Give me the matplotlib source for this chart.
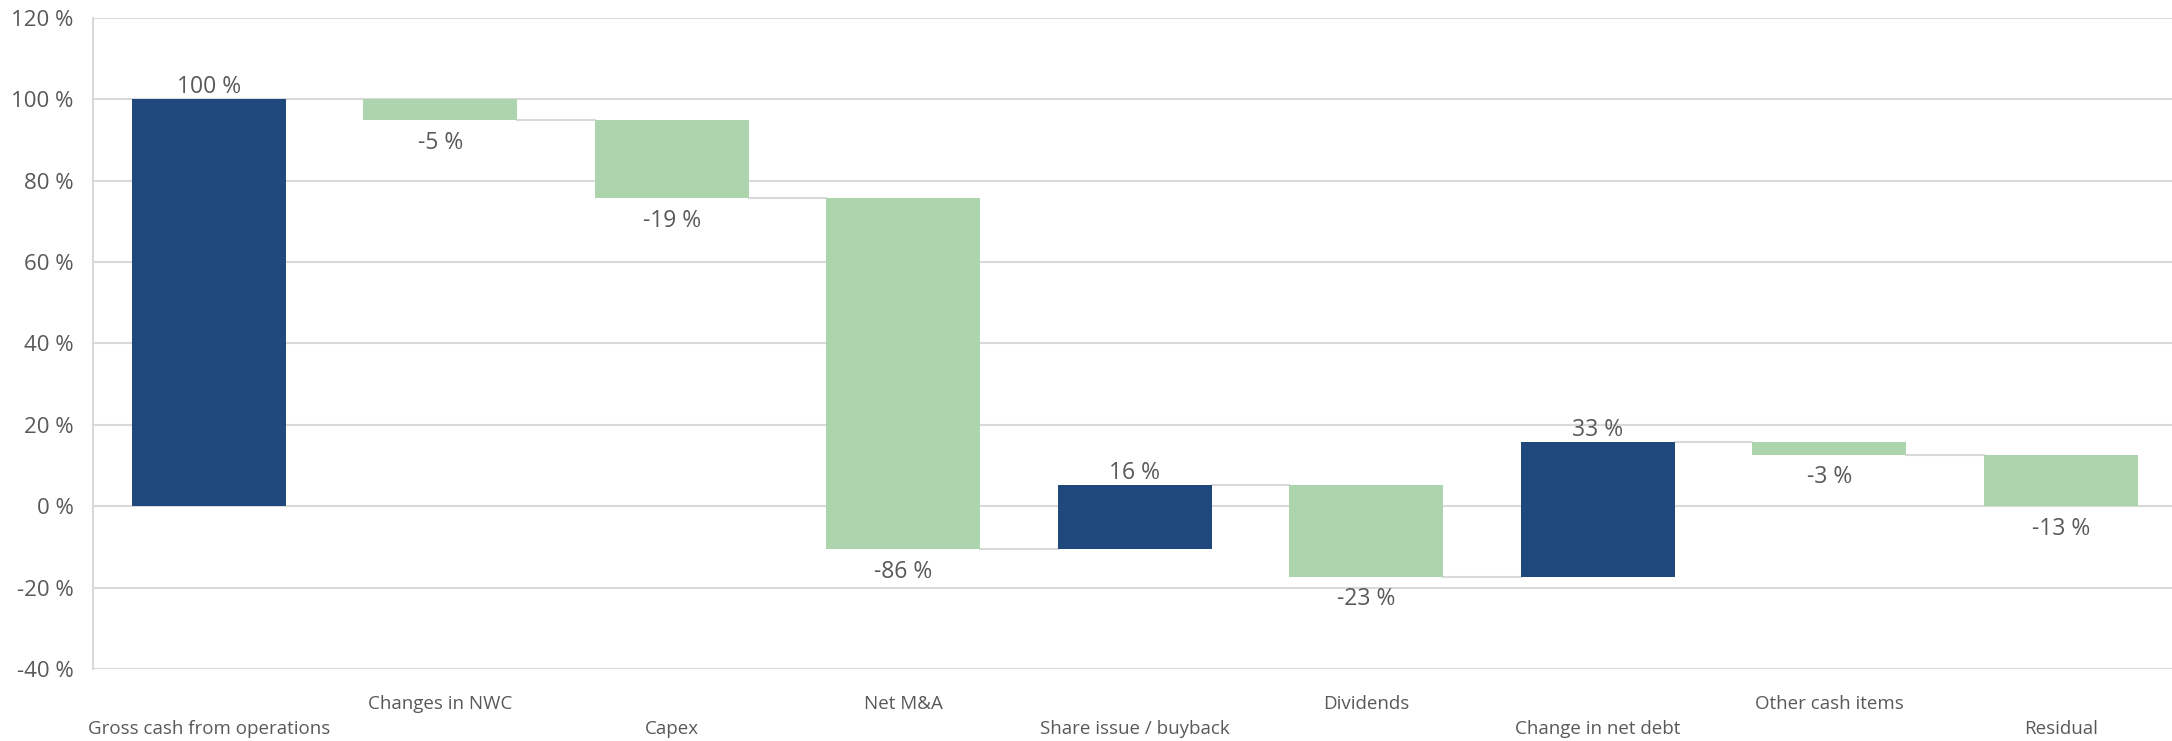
import matplotlib.pyplot as plt
import numpy as np

plt.rcParams["font.family"] = ["Open Sans", "DejaVu Sans"]

categories = [
    "Gross cash from operations",
    "Changes in NWC",
    "Capex",
    "Net M&A",
    "Share issue / buyback",
    "Dividends",
    "Change in net debt",
    "Other cash items",
    "Residual",
]
changes = [100, -5.1, -19.2, -86.3, 15.9, -22.6, 33.2, -3.3, -12.6]
# dark bars are inflows, light green are outflows
kinds = ["in", "out", "out", "out", "in", "out", "in", "out", "out"]

navy = "#1f497d"
green = "#add5ad"
grey_text = "#595959"
grid_col = "#d9d9d9"

changes = np.array(changes)
ends = np.cumsum(changes)
starts = ends - changes
x = np.arange(len(categories))
width = 0.665

fig = plt.figure(figsize=(21.72, 7.41), dpi=100)
ax = fig.add_axes([0.0428, 0.0972, 0.9572, 0.8785])

colors = [navy if k == "in" else green for k in kinds]
ax.bar(x, changes, bottom=starts, width=width, color=colors, zorder=3)

# connectors between consecutive bars
for i in range(len(x) - 1):
    ax.plot([x[i] + width / 2, x[i + 1] - width / 2], [ends[i], ends[i]],
            color=grid_col, lw=1.5, zorder=2)

# value labels
for i, v in enumerate(changes):
    top = max(starts[i], ends[i])
    bot = min(starts[i], ends[i])
    if v > 0:
        ax.annotate(f"{v:.0f} %", (x[i], top), xytext=(0, 0), textcoords="offset points",
                    ha="center", va="bottom", fontsize=16.5, color=grey_text)
    else:
        ax.annotate(f"{v:.0f} %", (x[i], bot), xytext=(0, -7.5), textcoords="offset points",
                    ha="center", va="top", fontsize=16.5, color=grey_text)

ax.set_xlim(-0.5, len(x) - 0.52)
ax.set_ylim(-40, 120)
ax.set_yticks(np.arange(-40, 121, 20))
ax.set_yticklabels([f"{t} %" for t in range(-40, 121, 20)], fontsize=16, color=grey_text)
ax.yaxis.grid(True, color=grid_col, lw=1.5, zorder=0)
ax.set_axisbelow(True)

ax.set_xticks(x)
ax.set_xticklabels(categories, fontsize=13.5, color=grey_text)
ticks = ax.xaxis.get_major_ticks()
for i, t in enumerate(ticks):
    t.set_pad(37 if i % 2 == 0 else 19)

ax.tick_params(axis="both", length=0)
ax.tick_params(axis="y", pad=14)
for s in ["top", "right", "bottom"]:
    ax.spines[s].set_visible(False)
ax.spines["left"].set_color(grid_col)
ax.spines["left"].set_linewidth(1.5)

fig.savefig("out.png", dpi=100)
